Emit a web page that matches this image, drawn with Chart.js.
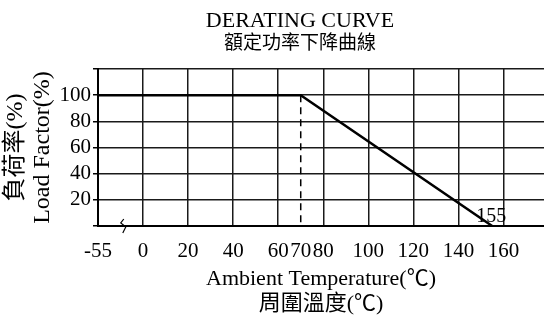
<!DOCTYPE html>
<html>
<head>
<meta charset="utf-8">
<script src="https://cdn.jsdelivr.net/npm/chart.js@4"></script>
<style>
  html, body { margin: 0; padding: 0; background: #fff; overflow: hidden; }
  #wrap { width: 544px; height: 320px; position: relative; }
</style>
</head>
<body>
<div id="wrap"><canvas id="chart"></canvas></div>
<script>
// Derating curve: load factor vs ambient temperature
const chartTitle = ['DERATING CURVE', '額定功率下降曲線'];
const xTitle = ['Ambient Temperature(℃)', '周圍溫度(℃)'];
const yTitle = ['負荷率(%)', 'Load Factor(%)'];

// -20 sits at the axis break and carries the "-55" label
const tempPoints = [-20, 70, 155];
const loadPoints = [100, 100, 0];
const kneeTemp = [70, 70];
const kneeLoad = [100, 0];

const xTickValues = [-20, 0, 20, 40, 60, 70, 80, 100, 120, 140, 160];
const xTickLabels = ['-55', '0', '20', '40', '60', '70', '80', '100', '120', '140', '160'];
const yTickLabels = ['', '20', '40', '60', '80', '100', ''];
const endLabel = '155';

const serif = "'Liberation Serif', 'Noto Sans CJK TC', serif";
const cjk = "'Noto Sans CJK TC', 'Liberation Serif', sans-serif";

// Titles, the "155" mark and the axis break squiggle
const extras = {
  id: 'extras',
  afterDraw(chart) {
    const { ctx, scales: { x, y } } = chart;
    ctx.save();
    ctx.fillStyle = '#000';
    ctx.textAlign = 'center';
    ctx.textBaseline = 'middle';
    ctx.font = `22px ${serif}`;
    ctx.fillText(chartTitle[0], 300, 21);
    ctx.font = `19px ${cjk}`;
    ctx.fillText(chartTitle[1], 300, 42);

    ctx.font = `20px ${serif}`;
    ctx.textAlign = 'left';
    ctx.textBaseline = 'alphabetic';
    ctx.fillText(endLabel, x.getPixelForValue(155) - 16, y.getPixelForValue(0) - 4);

    // axis break
    const bx = x.getPixelForValue(-9);
    const by = y.getPixelForValue(0);
    ctx.strokeStyle = '#000';
    ctx.lineWidth = 1.2;
    ctx.beginPath();
    ctx.moveTo(bx + 1, by - 7);
    ctx.lineTo(bx - 2, by - 3);
    ctx.lineTo(bx + 3, by + 1);
    ctx.lineTo(bx, by + 7);
    ctx.stroke();
    ctx.restore();
  },
};

new Chart(document.getElementById('chart'), {
  type: 'scatter',
  data: {
    datasets: [
      {
        data: tempPoints.map((t, i) => ({ x: t, y: loadPoints[i] })),
        showLine: true,
        borderColor: '#000',
        borderWidth: 2.5,
        pointRadius: 0,
      },
      {
        data: kneeTemp.map((t, i) => ({ x: t, y: kneeLoad[i] })),
        showLine: true,
        borderColor: '#000',
        borderWidth: 1.5,
        borderDash: [7, 5],
        pointRadius: 0,
      },
    ],
  },
  options: {
    responsive: true,
    maintainAspectRatio: false,
    animation: false,
    layout: { padding: { top: 69, right: 0, left: 0, bottom: 0 } },
    plugins: {
      legend: { display: false },
      tooltip: { enabled: false },
    },
    scales: {
      x: {
        type: 'linear',
        min: -20,
        max: 178,
        afterBuildTicks: (scale) => {
          scale.ticks = xTickValues.map((v) => ({ value: v }));
        },
        afterFit: (scale) => {
          scale.height = 94;
        },
        ticks: {
          autoSkip: false,
          maxRotation: 0,
          padding: 13,
          color: '#000',
          font: { family: serif, size: 21 },
          callback: (v) => xTickLabels[xTickValues.indexOf(v)],
        },
        grid: {
          drawTicks: false,
          color: (ctx) => (ctx.tick && ctx.tick.value === 70 ? 'rgba(0,0,0,0)' : '#1a1a1a'),
          lineWidth: 1.5,
        },
        border: { color: '#000', width: 2 },
        title: {
          display: true,
          text: xTitle,
          color: '#000',
          font: { family: serif, size: 22, lineHeight: 1.14 },
          padding: { top: 0, bottom: 3 },
        },
      },
      y: {
        min: 0,
        max: 120,
        afterFit: (scale) => {
          scale.width = 98;
        },
        ticks: {
          stepSize: 20,
          autoSkip: false,
          padding: 2,
          color: '#000',
          font: { family: serif, size: 21 },
          callback: (v) => yTickLabels[v / 20],
        },
        grid: {
          color: '#1a1a1a',
          lineWidth: 1.5,
          tickLength: 5,
          tickColor: '#000',
        },
        border: { color: '#000', width: 2 },
        title: {
          display: true,
          text: yTitle,
          color: '#000',
          font: { family: serif, size: 24, lineHeight: 1.125 },
          padding: { top: 2, bottom: 0 },
        },
      },
    },
  },
  plugins: [extras],
});
</script>
</body>
</html>
